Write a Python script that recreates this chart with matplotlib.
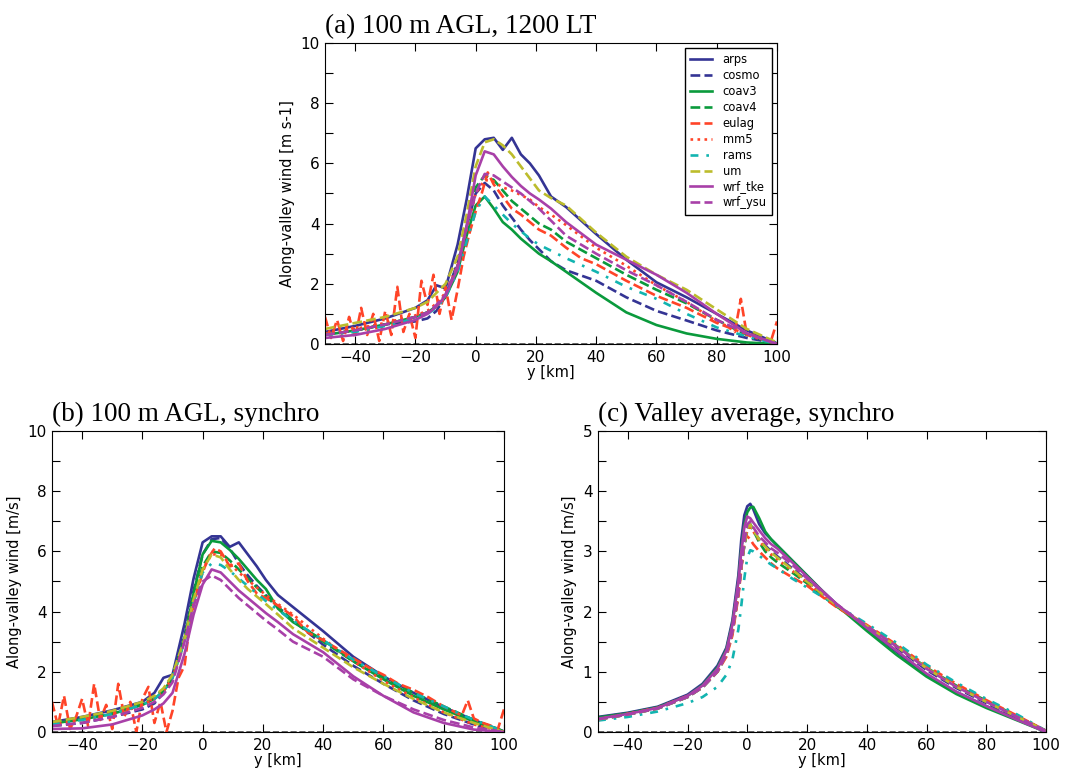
import matplotlib
matplotlib.use("Agg")
import matplotlib.pyplot as plt
from matplotlib.ticker import MultipleLocator

# along-valley distance (km), shared grid for panels (a) and (b)
Y = [-50, -40, -30, -20, -16, -13, -10, -6, -3, 0, 3, 6, 9, 12, 15, 18, 21, 25, 30, 40, 50, 60, 70, 80, 90, 100]

# (a) 100 m AGL, 1200 LT
a_arps = [0.40, 0.60, 0.85, 1.20, 1.45, 1.95, 1.85, 3.30, 4.80, 6.50, 6.80, 6.85, 6.45, 6.85, 6.30, 6.00, 5.60, 4.90, 4.55, 3.65, 2.80, 2.05, 1.55, 1.00, 0.45, 0.02]
a_cosmo = [0.30, 0.45, 0.65, 0.75, 0.85, 1.10, 1.60, 2.70, 3.90, 5.00, 5.35, 5.10, 4.60, 4.20, 3.80, 3.45, 3.15, 2.75, 2.45, 2.10, 1.55, 1.10, 0.78, 0.45, 0.20, 0.02]
a_coav3 = [0.30, 0.45, 0.65, 0.90, 1.05, 1.25, 1.55, 2.40, 3.60, 4.60, 4.90, 4.50, 4.05, 3.80, 3.50, 3.25, 3.00, 2.75, 2.40, 1.70, 1.05, 0.63, 0.35, 0.17, 0.05, 0.00]
a_coav4 = [0.30, 0.45, 0.65, 0.90, 1.05, 1.25, 1.60, 2.60, 3.90, 5.20, 5.60, 5.45, 5.10, 4.75, 4.50, 4.25, 4.00, 3.80, 3.40, 2.85, 2.30, 1.80, 1.35, 0.80, 0.30, 0.02]
a_mm5 = [0.35, 0.50, 0.70, 0.95, 1.10, 1.35, 1.70, 2.60, 3.80, 5.00, 5.45, 5.40, 5.20, 5.10, 4.95, 4.80, 4.55, 4.30, 3.95, 3.20, 2.60, 1.95, 1.40, 0.75, 0.30, 0.00]
a_rams = [0.30, 0.40, 0.60, 0.85, 1.00, 1.20, 1.55, 2.40, 3.40, 4.40, 4.90, 4.60, 4.30, 4.00, 3.75, 3.50, 3.30, 3.10, 2.85, 2.40, 1.90, 1.50, 1.00, 0.55, 0.25, 0.00]
a_um = [0.50, 0.70, 0.90, 1.20, 1.40, 1.70, 2.00, 2.90, 4.30, 5.90, 6.70, 6.80, 6.60, 6.30, 5.90, 5.50, 5.10, 4.85, 4.60, 3.70, 2.90, 2.30, 1.80, 1.15, 0.50, 0.05]
a_wrf_tke = [0.20, 0.30, 0.50, 0.80, 1.00, 1.25, 1.60, 2.50, 3.90, 5.60, 6.40, 6.30, 5.90, 5.55, 5.25, 5.00, 4.80, 4.50, 4.05, 3.30, 2.80, 2.30, 1.70, 1.00, 0.35, 0.00]
a_wrf_ysu = [0.30, 0.45, 0.65, 0.90, 1.05, 1.30, 1.65, 2.60, 3.90, 5.00, 5.65, 5.60, 5.40, 5.20, 5.00, 4.75, 4.50, 4.10, 3.60, 3.00, 2.45, 1.95, 1.40, 0.80, 0.35, 0.00]
# eulag is noisy, own grid
a_eulag_y = [-50, -48, -46, -44, -42, -40, -38, -36, -34, -32, -30, -28, -26, -24, -22, -20, -18, -16, -14, -12, -10, -8, -6, -4, -2, 0, 2, 4, 6, 9, 12, 15, 18, 21, 25, 30, 35, 40, 50, 60, 70, 80, 84, 86, 88, 90, 92, 95, 98, 100]
a_eulag = [0.9, 0.2, 0.8, 0.1, 0.9, 0.2, 1.2, 0.3, 1.0, 0.1, 1.1, 0.3, 1.9, 0.4, 1.0, 0.2, 2.1, 1.3, 2.3, 1.0, 1.9, 0.8, 1.8, 2.9, 3.7, 4.4, 5.0, 5.7, 5.3, 4.9, 4.5, 4.3, 4.05, 3.8, 3.6, 3.2, 2.85, 2.65, 2.1, 1.6, 1.2, 0.7, 0.55, 0.4, 1.5, 0.3, 0.3, 0.15, 0.1, 0.75]

# (b) 100 m AGL, synchro
b_arps = [0.33, 0.50, 0.72, 1.00, 1.30, 1.80, 1.90, 3.60, 5.10, 6.30, 6.50, 6.50, 6.15, 6.30, 5.90, 5.50, 5.05, 4.55, 4.15, 3.35, 2.50, 1.85, 1.30, 0.82, 0.40, 0.02]
b_cosmo = [0.20, 0.30, 0.50, 0.75, 0.95, 1.30, 1.80, 3.20, 4.70, 5.90, 6.40, 6.45, 6.10, 5.60, 5.20, 4.85, 4.55, 4.15, 3.70, 2.90, 2.20, 1.60, 1.05, 0.60, 0.25, 0.00]
b_coav3 = [0.28, 0.42, 0.60, 0.90, 1.10, 1.35, 1.80, 3.10, 4.60, 5.90, 6.35, 6.30, 6.05, 5.75, 5.40, 5.05, 4.75, 4.10, 3.65, 3.05, 2.35, 1.75, 1.20, 0.75, 0.35, 0.00]
b_coav4 = [0.30, 0.45, 0.65, 0.95, 1.15, 1.40, 1.85, 3.10, 4.40, 5.50, 6.00, 5.95, 5.70, 5.40, 5.10, 4.80, 4.50, 4.15, 3.70, 3.00, 2.35, 1.80, 1.30, 0.85, 0.40, 0.02]
b_mm5 = [0.25, 0.40, 0.60, 0.90, 1.10, 1.35, 1.80, 3.00, 4.30, 5.40, 5.90, 5.90, 5.60, 5.30, 5.05, 4.80, 4.55, 4.25, 3.90, 3.10, 2.35, 1.70, 1.15, 0.65, 0.25, 0.00]
b_rams = [0.25, 0.40, 0.60, 0.90, 1.10, 1.35, 1.80, 3.00, 4.30, 5.30, 5.60, 5.55, 5.35, 5.10, 4.85, 4.60, 4.35, 4.05, 3.70, 3.05, 2.40, 1.85, 1.30, 0.85, 0.40, 0.02]
b_um = [0.33, 0.50, 0.70, 1.00, 1.20, 1.45, 1.90, 3.10, 4.40, 5.40, 5.90, 5.80, 5.40, 5.05, 4.75, 4.50, 4.25, 3.90, 3.45, 2.80, 2.15, 1.60, 1.10, 0.65, 0.30, 0.00]
b_wrf_tke = [0.10, 0.12, 0.25, 0.55, 0.75, 0.95, 1.30, 2.60, 3.90, 4.90, 5.40, 5.30, 5.00, 4.70, 4.45, 4.20, 3.95, 3.65, 3.25, 2.65, 1.85, 1.20, 0.65, 0.30, 0.08, 0.00]
b_wrf_ysu = [0.20, 0.30, 0.50, 0.80, 1.00, 1.25, 1.65, 3.00, 4.20, 5.00, 5.20, 5.05, 4.75, 4.45, 4.20, 3.95, 3.70, 3.40, 3.00, 2.50, 1.75, 1.20, 0.75, 0.40, 0.15, 0.00]
b_eulag_y = [-50, -48, -46, -44, -42, -40, -38, -36, -34, -32, -30, -28, -26, -24, -22, -20, -18, -16, -14, -12, -10, -8, -6, -4, -2, 0, 2, 4, 6, 9, 12, 15, 18, 21, 25, 30, 35, 40, 45, 50, 55, 60, 65, 70, 75, 80, 84, 86, 88, 90, 93, 96, 98, 100]
b_eulag = [1.0, 0.2, 1.2, 0.1, 0.5, 1.1, 0.2, 1.6, 0.4, 0.9, 0.1, 1.6, 0.5, 1.0, 0.0, 1.1, 1.5, 0.3, 1.0, 0.0, 0.7, 1.8, 2.2, 3.8, 4.6, 5.3, 5.8, 6.1, 6.0, 5.5, 5.6, 5.0, 4.6, 4.45, 4.2, 3.85, 3.3, 3.05, 2.75, 2.45, 2.15, 1.9, 1.6, 1.4, 1.15, 0.85, 0.65, 0.55, 1.05, 0.45, 0.3, 0.2, 0.1, 0.75]

# (c) valley average, synchro
Yc = [-50, -40, -30, -20, -15, -10, -7, -5, -3, -2, -1, 0, 1, 2, 4, 6, 8, 10, 15, 20, 25, 30, 40, 50, 60, 70, 80, 90, 100]
c_arps = [0.25, 0.32, 0.42, 0.62, 0.80, 1.10, 1.40, 1.85, 2.60, 3.20, 3.60, 3.75, 3.79, 3.70, 3.45, 3.30, 3.20, 3.10, 2.85, 2.60, 2.35, 2.12, 1.72, 1.33, 0.95, 0.66, 0.43, 0.22, 0.00]
c_cosmo = [0.21, 0.29, 0.39, 0.58, 0.74, 1.00, 1.28, 1.65, 2.30, 2.75, 3.10, 3.35, 3.45, 3.35, 3.20, 3.10, 3.00, 2.92, 2.72, 2.52, 2.30, 2.10, 1.75, 1.40, 1.03, 0.73, 0.48, 0.25, 0.02]
c_coav3 = [0.24, 0.31, 0.41, 0.60, 0.78, 1.07, 1.37, 1.80, 2.50, 3.05, 3.45, 3.65, 3.73, 3.74, 3.55, 3.33, 3.20, 3.10, 2.85, 2.60, 2.35, 2.10, 1.68, 1.28, 0.92, 0.63, 0.40, 0.20, 0.00]
c_coav4 = [0.21, 0.29, 0.39, 0.58, 0.74, 1.00, 1.28, 1.65, 2.30, 2.75, 3.10, 3.35, 3.45, 3.35, 3.15, 3.00, 2.90, 2.82, 2.65, 2.47, 2.27, 2.08, 1.76, 1.43, 1.07, 0.77, 0.52, 0.27, 0.02]
c_eulag = [0.21, 0.30, 0.40, 0.60, 0.75, 1.00, 1.25, 1.60, 2.25, 2.70, 3.20, 3.25, 3.20, 3.12, 3.00, 2.90, 2.80, 2.72, 2.57, 2.43, 2.25, 2.07, 1.78, 1.45, 1.10, 0.80, 0.53, 0.28, 0.02]
c_mm5 = [0.22, 0.30, 0.40, 0.59, 0.75, 1.02, 1.30, 1.68, 2.35, 2.80, 3.15, 3.35, 3.40, 3.33, 3.18, 3.05, 2.95, 2.87, 2.68, 2.49, 2.28, 2.09, 1.75, 1.42, 1.06, 0.76, 0.51, 0.26, 0.02]
c_rams = [0.19, 0.25, 0.34, 0.48, 0.58, 0.75, 0.95, 1.20, 1.70, 2.10, 2.55, 2.90, 3.02, 3.00, 2.93, 2.85, 2.78, 2.72, 2.55, 2.40, 2.25, 2.10, 1.80, 1.48, 1.12, 0.82, 0.55, 0.30, 0.02]
c_um = [0.21, 0.29, 0.39, 0.58, 0.74, 1.00, 1.28, 1.65, 2.30, 2.75, 3.10, 3.38, 3.45, 3.35, 3.20, 3.08, 2.98, 2.90, 2.70, 2.50, 2.30, 2.10, 1.76, 1.42, 1.06, 0.75, 0.50, 0.26, 0.02]
c_wrf_tke = [0.22, 0.30, 0.40, 0.60, 0.77, 1.05, 1.35, 1.78, 2.50, 3.00, 3.40, 3.58, 3.55, 3.48, 3.35, 3.22, 3.12, 3.05, 2.82, 2.58, 2.35, 2.12, 1.73, 1.35, 0.97, 0.67, 0.43, 0.21, 0.00]
c_wrf_ysu = [0.21, 0.29, 0.39, 0.58, 0.74, 1.00, 1.28, 1.65, 2.30, 2.75, 3.15, 3.45, 3.50, 3.40, 3.25, 3.15, 3.05, 2.98, 2.78, 2.55, 2.33, 2.12, 1.76, 1.42, 1.05, 0.75, 0.50, 0.26, 0.02]

models = ["arps", "cosmo", "coav3", "coav4", "eulag", "mm5", "rams", "um", "wrf_tke", "wrf_ysu"]
colors = {"arps": "#343494", "cosmo": "#343494", "coav3": "#0a9a3c", "coav4": "#0a9a3c",
          "eulag": "#ff4428", "mm5": "#ff4428", "rams": "#12b4b0", "um": "#bcbc2c",
          "wrf_tke": "#a840a8", "wrf_ysu": "#a840a8"}
styles = {"arps": "-", "cosmo": "--", "coav3": "-", "coav4": "--", "eulag": "--",
          "mm5": ":", "rams": (0, (3, 3, 1, 3)), "um": "--", "wrf_tke": "-", "wrf_ysu": "--"}

panel_a = {"arps": (Y, a_arps), "cosmo": (Y, a_cosmo), "coav3": (Y, a_coav3), "coav4": (Y, a_coav4),
           "eulag": (a_eulag_y, a_eulag), "mm5": (Y, a_mm5), "rams": (Y, a_rams), "um": (Y, a_um),
           "wrf_tke": (Y, a_wrf_tke), "wrf_ysu": (Y, a_wrf_ysu)}
panel_b = {"arps": (Y, b_arps), "cosmo": (Y, b_cosmo), "coav3": (Y, b_coav3), "coav4": (Y, b_coav4),
           "eulag": (b_eulag_y, b_eulag), "mm5": (Y, b_mm5), "rams": (Y, b_rams), "um": (Y, b_um),
           "wrf_tke": (Y, b_wrf_tke), "wrf_ysu": (Y, b_wrf_ysu)}
panel_c = {"arps": (Yc, c_arps), "cosmo": (Yc, c_cosmo), "coav3": (Yc, c_coav3), "coav4": (Yc, c_coav4),
           "eulag": (Yc, c_eulag), "mm5": (Yc, c_mm5), "rams": (Yc, c_rams), "um": (Yc, c_um),
           "wrf_tke": (Yc, c_wrf_tke), "wrf_ysu": (Yc, c_wrf_ysu)}

plt.rcParams["font.family"] = "DejaVu Sans"
fig = plt.figure(figsize=(10.67, 7.68), dpi=100)

ax_a = fig.add_axes([0.3046, 0.5521, 0.4236, 0.3919])
ax_b = fig.add_axes([0.0487, 0.0469, 0.4236, 0.3919])
ax_c = fig.add_axes([0.5604, 0.0469, 0.4199, 0.3919])

setup = [
    (ax_a, panel_a, "(a) 100 m AGL, 1200 LT", "Along-valley wind [m s-1]", 10, 2, 1),
    (ax_b, panel_b, "(b) 100 m AGL, synchro", "Along-valley wind [m/s]", 10, 2, 1),
    (ax_c, panel_c, "(c) Valley average, synchro", "Along-valley wind [m/s]", 5, 1, 0.5),
]

for ax, data, title, ylab, ymax, major, minor in setup:
    ax.axhline(0, color="0.3", ls="--", lw=1.2, zorder=1)
    for m in models:
        xs, vs = data[m]
        ax.plot(xs, vs, color=colors[m], ls=styles[m], lw=1.9, label=m)
    ax.set_xlim(-50, 100)
    ax.set_ylim(0, ymax)
    ax.xaxis.set_major_locator(MultipleLocator(20))
    ax.yaxis.set_major_locator(MultipleLocator(major))
    ax.yaxis.set_minor_locator(MultipleLocator(minor))
    ax.tick_params(which="both", direction="in", top=True, right=True, length=6,
                   width=0.8, labelsize=11, pad=4)
    ax.set_xlabel("y [km]", fontsize=10.5, labelpad=0)
    ax.set_ylabel(ylab, fontsize=10.5, labelpad=4)
    ax.set_title(title, loc="left", fontsize=19.5, family="Liberation Serif", pad=7)

ax_a.legend(loc="upper right", fontsize=8.3, frameon=True, fancybox=False,
            edgecolor="k", framealpha=1, handlelength=1.9, labelspacing=0.25,
            borderpad=0.5, borderaxespad=0.4, handletextpad=0.9)

fig.savefig("out.png", dpi=100)
